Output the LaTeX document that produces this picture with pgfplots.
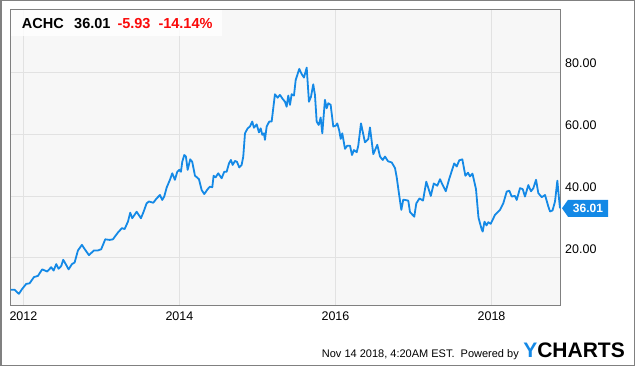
\documentclass[border=0pt]{standalone}
\usepackage{pgfplots}
\pgfplotsset{compat=1.18}
\usepackage{fontspec}
\setmainfont{Liberation Sans}
\definecolor{ylblue}{RGB}{20,137,230}
\definecolor{yred}{RGB}{250,10,10}
\definecolor{bgc}{RGB}{247,247,247}
\definecolor{gridc}{RGB}{226,226,226}
\definecolor{borderc}{RGB}{128,128,128}
\begin{document}
\begin{tikzpicture}
\path[use as bounding box] (0,0) rectangle (635bp,366bp);
\begin{axis}[
  at={(10bp,61bp)}, anchor=south west,
  width=550bp, height=295bp, scale only axis,
  xmin=-0.172, xmax=6.878, ymin=4.8, ymax=100,
  xtick={0,2,4,6}, xticklabels={2012,2014,2016,2018},
  ytick={20,40,60,80}, yticklabels={20.00,40.00,60.00,80.00},
  yticklabel pos=right,
  grid=major, major grid style={draw=gridc, line width=0.8bp},
  axis line style={draw=borderc, line width=1bp},
  major tick length=0pt,
  axis background/.style={fill=bgc},
  tick label style={font=\fontsize{12.5bp}{14bp}\selectfont, inner sep=0pt},
  xticklabel style={anchor=north, yshift=-7bp},
  yticklabel style={anchor=west, xshift=5bp, yshift=9bp},
  clip=false,
]
\addplot[ylblue, line width=1.8bp, line join=round, x filter/.expression={x-2012}] table {
x y
2011.836 9.7
2011.887 9.7
2011.942 8.4
2011.981 9.9
2012.036 11.6
2012.079 11.8
2012.135 13.8
2012.186 14.2
2012.241 16.3
2012.305 15.6
2012.356 17.0
2012.387 15.9
2012.421 18.0
2012.451 16.5
2012.485 17.4
2012.510 19.4
2012.549 17.7
2012.579 16.3
2012.622 18.0
2012.656 18.5
2012.699 22.4
2012.750 24.2
2012.792 22.6
2012.840 20.9
2012.904 22.4
2012.955 22.4
2012.997 22.8
2013.049 26.0
2013.105 25.8
2013.147 26.0
2013.212 28.2
2013.263 29.6
2013.297 29.3
2013.340 31.7
2013.369 34.6
2013.395 32.8
2013.451 34.9
2013.506 32.8
2013.536 34.6
2013.579 37.6
2013.609 38.2
2013.664 37.8
2013.708 39.2
2013.750 40.3
2013.779 38.7
2013.805 39.8
2013.836 42.7
2013.878 45.2
2013.908 47.3
2013.942 45.2
2013.972 47.8
2013.997 48.4
2014.019 47.8
2014.036 51.0
2014.062 53.2
2014.083 52.7
2014.105 48.4
2014.138 51.8
2014.164 51.0
2014.199 46.5
2014.224 46.0
2014.250 45.4
2014.285 41.9
2014.318 40.6
2014.362 42.2
2014.391 43.0
2014.421 42.8
2014.438 46.5
2014.464 46.0
2014.497 47.3
2014.541 45.7
2014.574 47.8
2014.605 47.8
2014.635 50.5
2014.660 51.6
2014.682 50.0
2014.712 51.3
2014.737 51.0
2014.767 49.2
2014.797 50.0
2014.818 52.7
2014.840 60.2
2014.874 61.8
2014.904 62.4
2014.933 64.0
2014.955 62.0
2014.990 63.1
2015.019 60.5
2015.041 61.8
2015.062 59.7
2015.083 60.2
2015.096 58.1
2015.118 62.4
2015.151 64.0
2015.182 64.0
2015.224 72.8
2015.259 71.7
2015.288 72.6
2015.323 71.3
2015.353 70.4
2015.374 68.8
2015.395 72.4
2015.417 69.4
2015.438 72.8
2015.468 72.4
2015.490 77.4
2015.536 81.0
2015.567 79.3
2015.596 78.2
2015.631 81.4
2015.660 70.4
2015.686 72.0
2015.715 76.0
2015.737 72.6
2015.759 64.0
2015.785 62.9
2015.810 65.3
2015.831 60.2
2015.865 71.0
2015.887 68.3
2015.908 69.9
2015.938 69.4
2015.972 62.4
2016.006 62.7
2016.023 63.4
2016.049 61.0
2016.067 58.4
2016.087 60.2
2016.122 55.2
2016.151 56.2
2016.186 56.2
2016.212 53.2
2016.237 54.8
2016.272 54.1
2016.292 56.2
2016.327 63.4
2016.378 57.3
2016.420 58.3
2016.442 62.1
2016.485 53.5
2016.536 56.5
2016.571 52.7
2016.606 51.6
2016.635 52.7
2016.673 51.2
2016.721 50.8
2016.763 49.0
2016.785 46.0
2016.818 40.0
2016.844 35.5
2016.869 38.8
2016.933 38.5
2016.955 34.8
2017.010 33.3
2017.036 37.6
2017.077 39.2
2017.122 38.5
2017.164 44.6
2017.222 40.0
2017.260 44.0
2017.305 43.3
2017.340 45.4
2017.374 43.5
2017.414 41.5
2017.458 45.5
2017.490 48.0
2017.522 50.5
2017.554 49.5
2017.587 51.5
2017.626 51.8
2017.665 46.5
2017.699 47.5
2017.724 46.3
2017.756 47.2
2017.801 42.2
2017.833 33.0
2017.874 29.2
2017.887 28.5
2017.910 31.7
2017.936 30.5
2017.959 31.5
2017.990 31.0
2018.045 33.9
2018.109 35.5
2018.151 37.6
2018.195 41.4
2018.228 41.7
2018.259 39.8
2018.301 40.0
2018.323 38.7
2018.365 42.5
2018.400 42.2
2018.429 39.8
2018.472 43.5
2018.506 41.5
2018.536 42.5
2018.571 45.2
2018.600 40.9
2018.644 39.6
2018.686 40.3
2018.728 36.6
2018.750 35.0
2018.782 35.3
2018.814 38.2
2018.844 44.9
2018.862 40.0
2018.878 36.01
};
\fill[ylblue] (rel axis cs:1,0.32784) ++(2bp,0bp) -- ++(6bp,8.5bp) -- ++(40bp,0bp) -- ++(0bp,-17bp) -- ++(-40bp,0bp) -- cycle;
\node[anchor=center, inner sep=0pt, text=white, font=\bfseries\fontsize{12bp}{14bp}\selectfont] at ([xshift=28bp]rel axis cs:1,0.32784) {36.01};
\end{axis}
\fill[white, fill opacity=0.8] (10.5bp,330bp) rectangle (222bp,355.5bp);
\begin{scope}[every node/.style={anchor=base west, inner sep=0pt, font=\bfseries\fontsize{14.5bp}{17bp}\selectfont}]
\node at (21.7bp,337.7bp) {ACHC};
\node at (74bp,337.7bp) {36.01};
\node[text=yred] at (117.3bp,337.7bp) {-5.93};
\node[text=yred] at (158.3bp,337.7bp) {-14.14\%};
\end{scope}
\node[anchor=base east, inner sep=0pt, font=\fontsize{11bp}{13bp}\selectfont] at (519bp,9bp) {Nov 14 2018, 4:20AM EST.\ \ Powered by};
\node[anchor=base east, inner sep=0pt, font=\bfseries\fontsize{21bp}{24bp}\selectfont] at (625bp,8.5bp) {\textcolor{ylblue}{Y}CHARTS};
\draw[borderc, line width=1.5bp] (0.75bp,0.75bp) rectangle (634.25bp,365.25bp);
\end{tikzpicture}
\end{document}
